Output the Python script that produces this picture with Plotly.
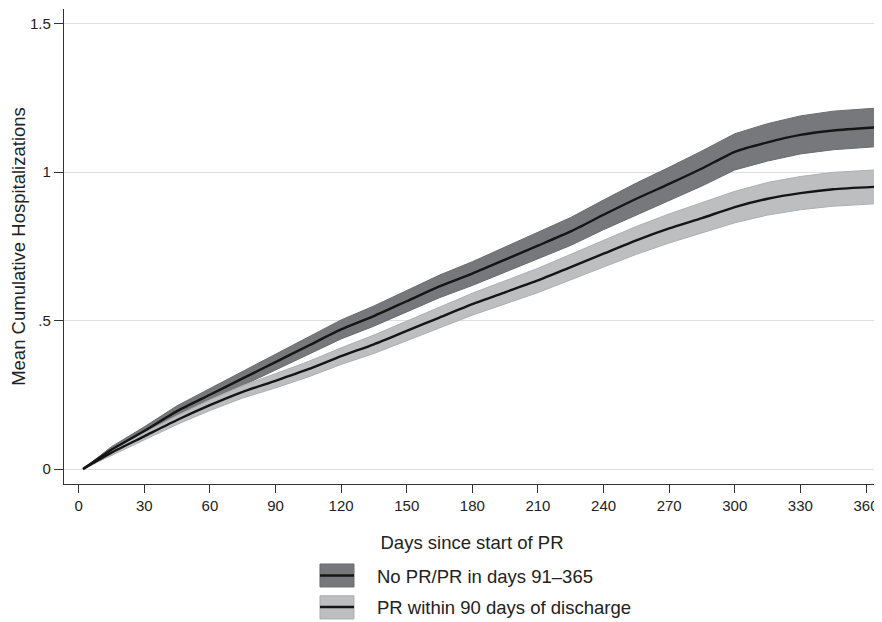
import plotly.graph_objects as go

# ---- data ----
days = [2, 15, 30, 45, 60, 75, 90, 105, 120, 135, 150, 165, 180, 195, 210,
        225, 240, 255, 270, 285, 300, 315, 330, 345, 364]

no_pr_mean = [0, 0.065, 0.128, 0.195, 0.25, 0.305, 0.36, 0.415, 0.47, 0.515,
              0.565, 0.615, 0.658, 0.705, 0.752, 0.80, 0.856, 0.91, 0.96,
              1.012, 1.068, 1.10, 1.125, 1.14, 1.15]
no_pr_half = [0, 0.010, 0.014, 0.018, 0.021, 0.024, 0.027, 0.030, 0.032, 0.034,
              0.036, 0.038, 0.040, 0.042, 0.044, 0.047, 0.050, 0.053, 0.056,
              0.059, 0.061, 0.063, 0.064, 0.065, 0.065]

pr90_mean = [0, 0.055, 0.11, 0.165, 0.215, 0.26, 0.297, 0.336, 0.38, 0.42,
             0.465, 0.51, 0.555, 0.595, 0.635, 0.68, 0.725, 0.77, 0.81,
             0.845, 0.882, 0.91, 0.929, 0.942, 0.95]
pr90_half = [0, 0.008, 0.012, 0.015, 0.018, 0.021, 0.024, 0.026, 0.028, 0.031,
             0.033, 0.035, 0.037, 0.039, 0.041, 0.043, 0.045, 0.047, 0.049,
             0.051, 0.053, 0.055, 0.056, 0.057, 0.057]

series_names = ["No PR/PR in days 91\u2013365", "PR within 90 days of discharge"]
x_ticks = [0, 30, 60, 90, 120, 150, 180, 210, 240, 270, 300, 330, 360]
y_ticks = [0, 0.5, 1, 1.5]
y_tick_labels = ["0", ".5", "1", "1.5"]

# ---- styles ----
FONT = "Liberation Sans, Arial, Helvetica, sans-serif"
band_fill = ["#77787b", "#bdbec0"]
band_edge = ["#6b6c6f", "#aeafb1"]
line_col = "#151515"

fig = go.Figure()

for mean, half, fc, ec in [(no_pr_mean, no_pr_half, band_fill[0], band_edge[0]),
                           (pr90_mean, pr90_half, band_fill[1], band_edge[1])]:
    upper = [m + h for m, h in zip(mean, half)]
    lower = [m - h for m, h in zip(mean, half)]
    fig.add_trace(go.Scatter(
        x=days + days[::-1], y=upper + lower[::-1],
        fill="toself", fillcolor=fc, mode="lines",
        line=dict(color=ec, width=1), showlegend=False, hoverinfo="skip"))

for mean in [no_pr_mean, pr90_mean]:
    fig.add_trace(go.Scatter(
        x=days, y=mean, mode="lines",
        line=dict(color=line_col, width=2.4, shape="spline", smoothing=0.6),
        showlegend=False))

# ---- manual legend (box with line through it) ----
shapes = []
annotations = []
leg_rows = [(-0.1684, -0.2168, -0.1926, -0.1952),
            (-0.2352, -0.2842, -0.2589, -0.2600)]
for i, (y0, y1, yl, yt) in enumerate(leg_rows):
    shapes.append(dict(type="rect", xref="paper", yref="paper",
                       x0=0.3137, x1=0.3554, y0=y0, y1=y1,
                       fillcolor=band_fill[i], line=dict(color=band_edge[i], width=1)))
    shapes.append(dict(type="line", xref="paper", yref="paper",
                       x0=0.3137, x1=0.3554, y0=yl, y1=yl,
                       line=dict(color=line_col, width=2.4)))
    annotations.append(dict(text=series_names[i], xref="paper", yref="paper",
                            x=0.3811, y=yt, xanchor="left", yanchor="middle",
                            showarrow=False, font=dict(size=18.5, color="#222", family=FONT)))

# page has an 8px body margin, so the figure is sized to fit inside it
fig.update_layout(
    width=874, height=614,
    margin=dict(l=56, r=2, t=1, b=138),
    paper_bgcolor="white", plot_bgcolor="white",
    font=dict(family=FONT, color="#222"),
    shapes=shapes, annotations=annotations,
    showlegend=False,
)

fig.update_xaxes(
    range=[-6.7, 366.4], tickvals=x_ticks,
    showline=True, linecolor="#333", linewidth=1.3,
    ticks="outside", ticklen=8, tickwidth=1.3, tickcolor="#333",
    showgrid=False, zeroline=False,
    tickfont=dict(size=15, color="#222"),
    title=dict(text="Days since start of PR", font=dict(size=18.5, color="#222"), standoff=22),
)
fig.update_yaxes(
    range=[-0.0505, 1.549], tickvals=y_ticks, ticktext=y_tick_labels,
    showline=True, linecolor="#333", linewidth=1.3,
    ticks="outside", ticklen=9, tickwidth=1.3, tickcolor="#333",
    showgrid=True, gridcolor="#dedede", gridwidth=1, zeroline=False,
    tickfont=dict(size=15, color="#222"),
    title=dict(text="Mean Cumulative Hospitalizations", font=dict(size=18.5, color="#222"), standoff=7),
)

fig.write_html("out.html")
